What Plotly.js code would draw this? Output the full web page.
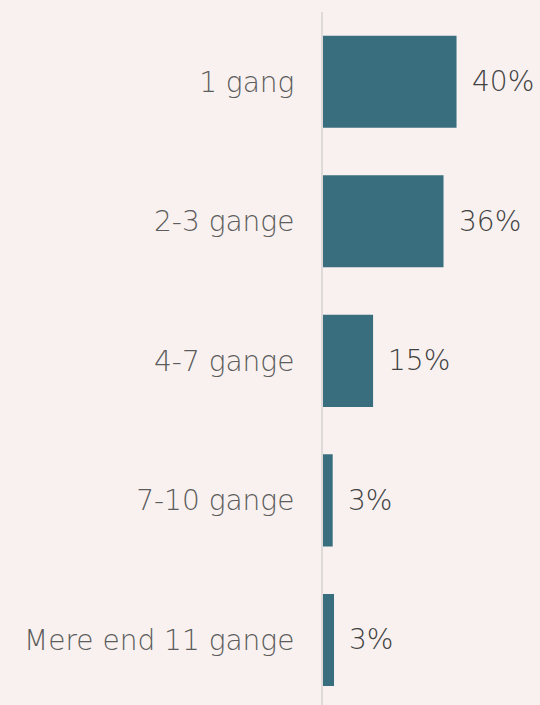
<!DOCTYPE html>
<html><head><meta charset="utf-8">
<script src="https://cdn.plot.ly/plotly-3.0.1.min.js"></script>
<style>html,body{margin:0;padding:0;background:#f8f1ef;}#chart{width:540px;height:705px;}</style>
</head><body><div id="chart"></div>
<script>
const categories = ["1 gang", "2-3 gange", "4-7 gange", "7-10 gange", "Mere end 11 gange"];
const values = [40, 36.1, 15, 2.9, 3.3];
const valueLabels = ["40%", "36%", "15%", "3%", "3%"];

const FONT = "DejaVu Sans, sans-serif";
const trace = {
  type: "bar", orientation: "h",
  y: categories, x: values,
  width: 0.66,
  marker: {color: "#386e7e"},
  hoverinfo: "none"
};
const annotations = categories.map((c, i) => ({
  x: values[i], y: c, xref: "x", yref: "y",
  text: valueLabels[i], showarrow: false,
  xanchor: "left", yanchor: "middle", xshift: 13,
  font: {family: FONT, size: 28, color: "#424242", weight: 300}
}));
const layout = {
  width: 540, height: 705,
  paper_bgcolor: "#f8f1ef", plot_bgcolor: "#f8f1ef",
  margin: {l: 323, r: 0, t: 12, b: 0, pad: 0},
  showlegend: false,
  xaxis: {range: [0, 65], visible: false, fixedrange: true},
  yaxis: {
    type: "category", range: [4.466, -0.5],
    showline: true, linecolor: "#dedada", linewidth: 2,
    showgrid: false, zeroline: false, ticks: "",
    ticklabelstandoff: 21,
    tickfont: {family: FONT, size: 28, color: "#5c5c5c", weight: 300}
  },
  annotations: annotations
};
Plotly.newPlot("chart", [trace], layout, {displayModeBar: false, staticPlot: true});
</script></body></html>
